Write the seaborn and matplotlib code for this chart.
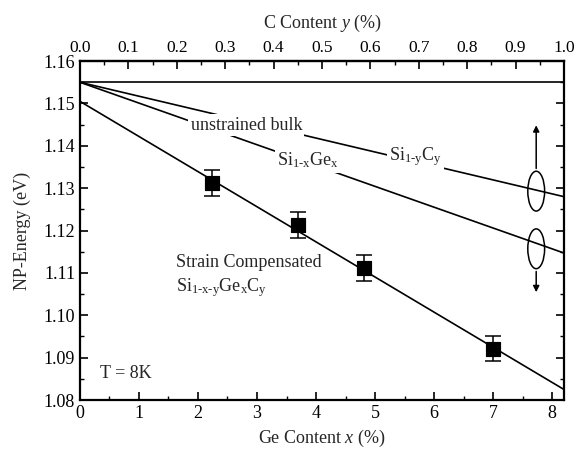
import numpy as np
import pandas as pd
import matplotlib
matplotlib.use("Agg")
import matplotlib.pyplot as plt
from matplotlib.patches import Ellipse
from matplotlib.ticker import MultipleLocator, FixedLocator, FormatStrFormatter
import seaborn as sns

# Data
line_x = [0.0, 8.2]
bulk_e = [1.155, 1.155]          # unstrained bulk Si
sic_e = [1.155, 1.128]           # Si(1-y)C(y)
sige_e = [1.155, 1.1147]         # Si(1-x)Ge(x)
comp_e = [1.1505, 1.0825]        # strain compensated fit

ge_pts = [2.24, 3.70, 4.81, 6.99]
energy_pts = [1.1312, 1.1213, 1.1112, 1.0921]
energy_err = [0.003, 0.003, 0.003, 0.003]

c_ticks = [0.0, 0.1, 0.2, 0.3, 0.4, 0.5, 0.6, 0.7, 0.8, 0.9, 1.0]

GE_PER_C = 8.2  # 1 % C <-> 8.2 % Ge on the top axis
HY = '\u2010'   # short hyphen for subscripts

sns.set_theme(style="ticks")
plt.rcParams['font.family'] = ['Liberation Serif', 'DejaVu Serif']
plt.rcParams['mathtext.fontset'] = 'custom'
plt.rcParams['mathtext.rm'] = 'Liberation Serif'
plt.rcParams['mathtext.it'] = 'Liberation Serif:italic'

fig = plt.figure(figsize=(5.79, 4.49), dpi=100)
ax = fig.add_axes([0.138, 0.109, 0.836, 0.755])

lines = pd.DataFrame({
    'x': line_x * 4,
    'E': bulk_e + sic_e + sige_e + comp_e,
    'name': ['bulk'] * 2 + ['sic'] * 2 + ['sige'] * 2 + ['comp'] * 2,
})
sns.lineplot(data=lines, x='x', y='E', units='name', estimator=None,
             color='black', linewidth=1.2, ax=ax, zorder=1)

ax.errorbar(ge_pts, energy_pts, yerr=energy_err, fmt='none', ecolor='black',
            elinewidth=1.1, capsize=6, capthick=1.1, zorder=3)
sns.scatterplot(x=ge_pts, y=energy_pts, marker='s', s=110, color='black',
                edgecolor='black', ax=ax, zorder=4)

# labels sitting on the lines (white box breaks the line)
box = dict(facecolor='white', edgecolor='none', pad=1.5)
ax.text(2.82, 1.1449, 'unstrained bulk', fontsize=13, ha='center', va='center', bbox=box, zorder=2)
ax.text(3.87, 1.1365, r'Si$_{\mathrm{1' + HY + r'x}}$Ge$_{\mathrm{x}}$', fontsize=13,
        ha='center', va='center', bbox=box, zorder=2)
ax.text(5.68, 1.1375, r'Si$_{\mathrm{1' + HY + r'y}}$C$_{\mathrm{y}}$', fontsize=13,
        ha='center', va='center', bbox=box, zorder=2)
ax.text(1.63, 1.1124, 'Strain Compensated', fontsize=13, ha='left', va='center')
ax.text(1.63, 1.1065, r'Si$_{\mathrm{1' + HY + 'x' + HY + r'y}}$Ge$_{\mathrm{x}}$C$_{\mathrm{y}}$',
        fontsize=13, ha='left', va='center')
ax.text(0.34, 1.0862, 'T = 8K', fontsize=13, ha='left', va='center')

# ellipses with arrows
for cy in (1.1293, 1.1157):
    ax.add_patch(Ellipse((7.73, cy), 0.285, 0.0094, fill=False, edgecolor='black',
                         linewidth=1.1, zorder=3))
ax.annotate('', xy=(7.73, 1.1455), xytext=(7.73, 1.134),
            arrowprops=dict(arrowstyle='-|>', color='black', lw=1.1, mutation_scale=9))
ax.annotate('', xy=(7.73, 1.1048), xytext=(7.73, 1.1110),
            arrowprops=dict(arrowstyle='-|>', color='black', lw=1.1, mutation_scale=9))

ax.set_xlim(0, 8.2)
ax.set_ylim(1.08, 1.16)
ax.xaxis.set_major_locator(MultipleLocator(1))
ax.xaxis.set_minor_locator(MultipleLocator(0.5))
ax.yaxis.set_major_locator(MultipleLocator(0.01))
ax.yaxis.set_minor_locator(MultipleLocator(0.005))
ax.yaxis.set_major_formatter(FormatStrFormatter('%.2f'))
ax.tick_params(which='both', direction='in', right=True, labelsize=13, colors='black')
ax.tick_params(which='major', length=6, width=1.2)
ax.tick_params(which='minor', length=3, width=1.0)
for s in ax.spines.values():
    s.set_linewidth(1.6)
    s.set_color('black')

ax.set_xlabel(r'Ge Content $\mathit{x}$ (%)', fontsize=13, labelpad=4)
ax.set_ylabel('NP-Energy (eV)', fontsize=13, labelpad=9)

top = ax.secondary_xaxis('top', functions=(lambda x: x / GE_PER_C, lambda y: y * GE_PER_C))
top.xaxis.set_major_locator(FixedLocator(c_ticks))
top.xaxis.set_minor_locator(FixedLocator([t + 0.05 for t in c_ticks[:-1]]))
top.xaxis.set_major_formatter(FormatStrFormatter('%.1f'))
top.tick_params(which='both', direction='in', labelsize=12.5, colors='black')
top.tick_params(which='major', length=6, width=1.2)
top.tick_params(which='minor', length=3, width=1.0)
top.spines['top'].set_linewidth(1.6)
top.set_xlabel(r'C Content $\mathit{y}$ (%)', fontsize=13, labelpad=9)

fig.savefig('out.png', dpi=100)
